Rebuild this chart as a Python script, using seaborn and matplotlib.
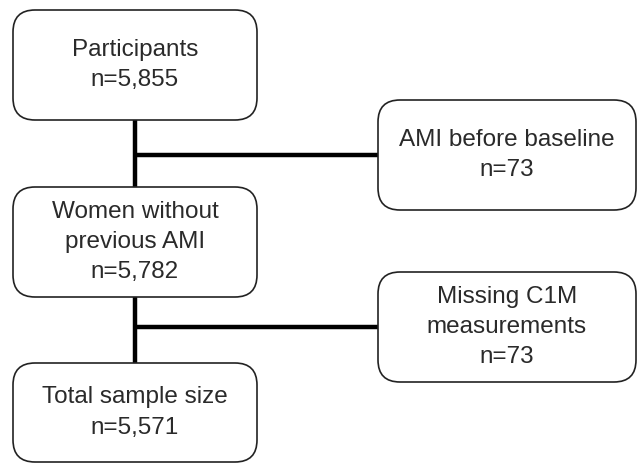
import matplotlib
matplotlib.use("Agg")
import matplotlib.pyplot as plt
from matplotlib.patches import FancyBboxPatch
import seaborn as sns

sns.set_style("white")
plt.rcParams['font.family'] = ['Liberation Sans', 'DejaVu Sans']

# flow steps (main column) and exclusions (side column)
main_labels = ["Participants", "Women without\nprevious AMI", "Total sample size"]
main_counts = [5855, 5782, 5571]
excl_labels = ["AMI before baseline", "Missing C1M\nmeasurements"]
excl_counts = [73, 73]

# box geometry in pixel coords (x0, y0, x1, y1)
main_boxes = [(13, 10, 257, 120), (13, 187, 257, 297), (13, 363, 257, 462)]
excl_boxes = [(378, 100, 636, 210), (378, 272, 636, 382)]
spine_x = 135

fig = plt.figure(figsize=(6.38, 4.71), dpi=100)
ax = fig.add_axes([0, 0, 1, 1])
ax.set_xlim(0, 638)
ax.set_ylim(471, 0)
ax.axis('off')

def draw_box(box, text):
    x0, y0, x1, y1 = box
    p = FancyBboxPatch((x0, y0), x1 - x0, y1 - y0,
                       boxstyle="round,pad=0,rounding_size=22",
                       fc="white", ec="#222222", lw=1.2, zorder=2)
    ax.add_patch(p)
    ax.text((x0 + x1) / 2, (y0 + y1) / 2, text, ha='center', va='center',
            fontsize=17.5, color="#2a2a2a", linespacing=1.48, zorder=3)

for box, lab, n in zip(main_boxes, main_labels, main_counts):
    draw_box(box, f"{lab}\nn={n:,}")
for box, lab, n in zip(excl_boxes, excl_labels, excl_counts):
    draw_box(box, f"{lab}\nn={n:,}")

# connectors between main boxes and branches to the exclusion boxes
for i, eb in enumerate(excl_boxes):
    top = main_boxes[i][3]
    bot = main_boxes[i + 1][1]
    ax.plot([spine_x, spine_x], [top, bot], color="black", lw=3.2,
            solid_capstyle='butt', zorder=1)
    ymid = (eb[1] + eb[3]) / 2
    ax.plot([spine_x, eb[0]], [ymid, ymid], color="black", lw=3.2,
            solid_capstyle='butt', zorder=1)

fig.savefig("out.png", dpi=100)
